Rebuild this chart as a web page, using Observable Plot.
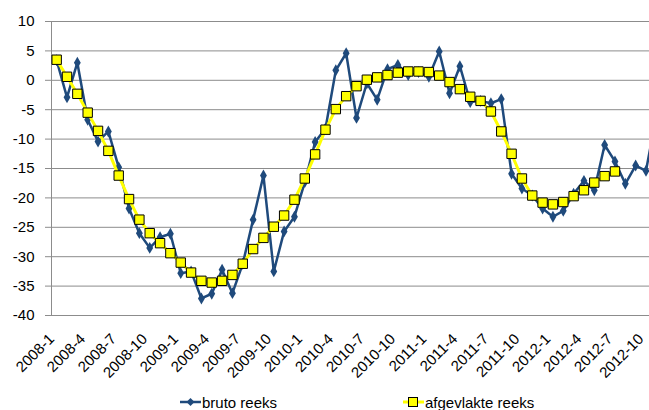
<!DOCTYPE html>
<html><head><meta charset="utf-8">
<script src="https://cdn.jsdelivr.net/npm/d3@7"></script>
<script src="https://cdn.jsdelivr.net/npm/@observablehq/plot@0.6"></script>
<style>
html,body{margin:0;padding:0;background:#fff;overflow:hidden;width:649px;height:410px;position:relative;}
#chart{position:absolute;left:0;top:0;width:661px;}
#chart svg{max-width:none !important;}
.leg{position:absolute;top:393px;height:18px;font-family:"Liberation Sans Narrow","Arial Narrow","Liberation Sans",Arial,sans-serif;font-size:15px;color:#000;display:flex;align-items:center;white-space:nowrap;}
.leg svg{display:block;margin-right:1px;}
</style></head><body>
<div id="chart"></div>
<div class="leg" style="left:180px"><svg width="21" height="12"><line x1="0" y1="6" x2="21" y2="6" stroke="#1F4A7C" stroke-width="2.5"/><path d="M10.5,2 L14.5,6 L10.5,10 L6.5,6 Z" fill="#1F4A7C"/></svg><span>bruto reeks</span></div>
<div class="leg" style="left:403px"><svg width="21" height="12"><line x1="0" y1="6" x2="21" y2="6" stroke="#FFFF00" stroke-width="3"/><rect x="5.5" y="1.5" width="9" height="9" fill="#FFFF00" stroke="#000" stroke-width="1"/></svg><span>afgevlakte reeks</span></div>
<script>
const months = ["2008-1","2008-2","2008-3","2008-4","2008-5","2008-6","2008-7","2008-8","2008-9","2008-10","2008-11","2008-12",
"2009-1","2009-2","2009-3","2009-4","2009-5","2009-6","2009-7","2009-8","2009-9","2009-10","2009-11","2009-12",
"2010-1","2010-2","2010-3","2010-4","2010-5","2010-6","2010-7","2010-8","2010-9","2010-10","2010-11","2010-12",
"2011-1","2011-2","2011-3","2011-4","2011-5","2011-6","2011-7","2011-8","2011-9","2011-10","2011-11","2011-12",
"2012-1","2012-2","2012-3","2012-4","2012-5","2012-6","2012-7","2012-8","2012-9","2012-10","2012-11"];

const brutoReeks = [3.4,-2.9,3.0,-6.7,-10.4,-8.7,-14.8,-21.8,-26.0,-28.5,-26.7,-26.1,
-32.8,-32.5,-37.1,-36.3,-32.2,-36.2,-31.2,-23.7,-16.2,-32.5,-25.7,-23.2,
-17.3,-10.5,-8.2,1.7,4.6,-6.4,-0.5,-3.3,1.9,2.6,0.9,1.4,
0.6,4.9,-2.2,2.4,-3.7,-3.5,-3.9,-3.2,-15.9,-18.4,-19.6,-21.8,
-23.2,-22.2,-19.3,-17.1,-18.7,-11.0,-13.8,-17.6,-14.5,-15.4,-6.0];

const afgevlakteReeks = [3.5,0.6,-2.3,-5.5,-8.6,-12.0,-16.2,-20.2,-23.7,-26.0,-27.7,-29.4,
-31.0,-32.7,-34.1,-34.4,-34.1,-33.1,-31.2,-28.7,-26.8,-24.9,-23.0,-20.3,
-16.7,-12.6,-8.4,-4.9,-2.7,-1.0,0.1,0.5,0.9,1.3,1.5,1.5,
1.4,0.8,-0.3,-1.5,-2.8,-3.5,-5.3,-8.7,-12.5,-16.7,-19.6,-20.8,
-21.1,-20.7,-19.7,-18.7,-17.4,-16.3,-15.5];

const yTicks = [10,5,0,-5,-10,-15,-20,-25,-30,-35,-40];
const xTickLabels = ["2008-1","2008-4","2008-7","2008-10","2009-1","2009-4","2009-7","2009-10",
"2010-1","2010-4","2010-7","2010-10","2011-1","2011-4","2011-7","2011-10",
"2012-1","2012-4","2012-7","2012-10"];

const blue = "#1F4A7C";
const yellow = "#FFFF00";
const grid = "#8c8c8c";

const brutoData = brutoReeks.map((v, i) => ({month: months[i], value: v}));
const afgData = afgevlakteReeks.map((v, i) => ({month: months[i], value: v}));

const chart = Plot.plot({
  width: 661,
  height: 390,
  marginLeft: 51,
  marginRight: 0,
  marginTop: 21,
  marginBottom: 75,
  style: {fontFamily: '"Liberation Sans Narrow","Arial Narrow","Liberation Sans",Arial,sans-serif', fontSize: "15px", color: "#000", background: "#fff", maxWidth: "none"},
  x: {type: "point", domain: months, padding: 0.5, round: false},
  y: {domain: [-40, 10]},
  marks: [
    Plot.gridY(yTicks, {stroke: grid, strokeOpacity: 1}),
    Plot.frame({anchor: "left", stroke: grid}),
    Plot.axisY(yTicks, {tickSize: 6, tickPadding: 11, stroke: grid, label: null, tickFormat: d => String(d)}),
    Plot.axisX(xTickLabels, {tickRotate: -45, tickSize: 0, tickPadding: 3, dx: -5, dy: 18, label: null}),
    Plot.line(brutoData, {x: "month", y: "value", stroke: blue, strokeWidth: 2.5}),
    Plot.dot(brutoData, {x: "month", y: "value", symbol: "diamond", fill: blue, r: 3.6}),
    Plot.line(afgData, {x: "month", y: "value", stroke: yellow, strokeWidth: 3}),
    Plot.dot(afgData, {x: "month", y: "value", symbol: "square", fill: yellow, stroke: "#000", strokeWidth: 1, r: 5.3})
  ]
});
chart.style.maxWidth = "none";
document.getElementById("chart").appendChild(chart);
</script>
</body></html>
